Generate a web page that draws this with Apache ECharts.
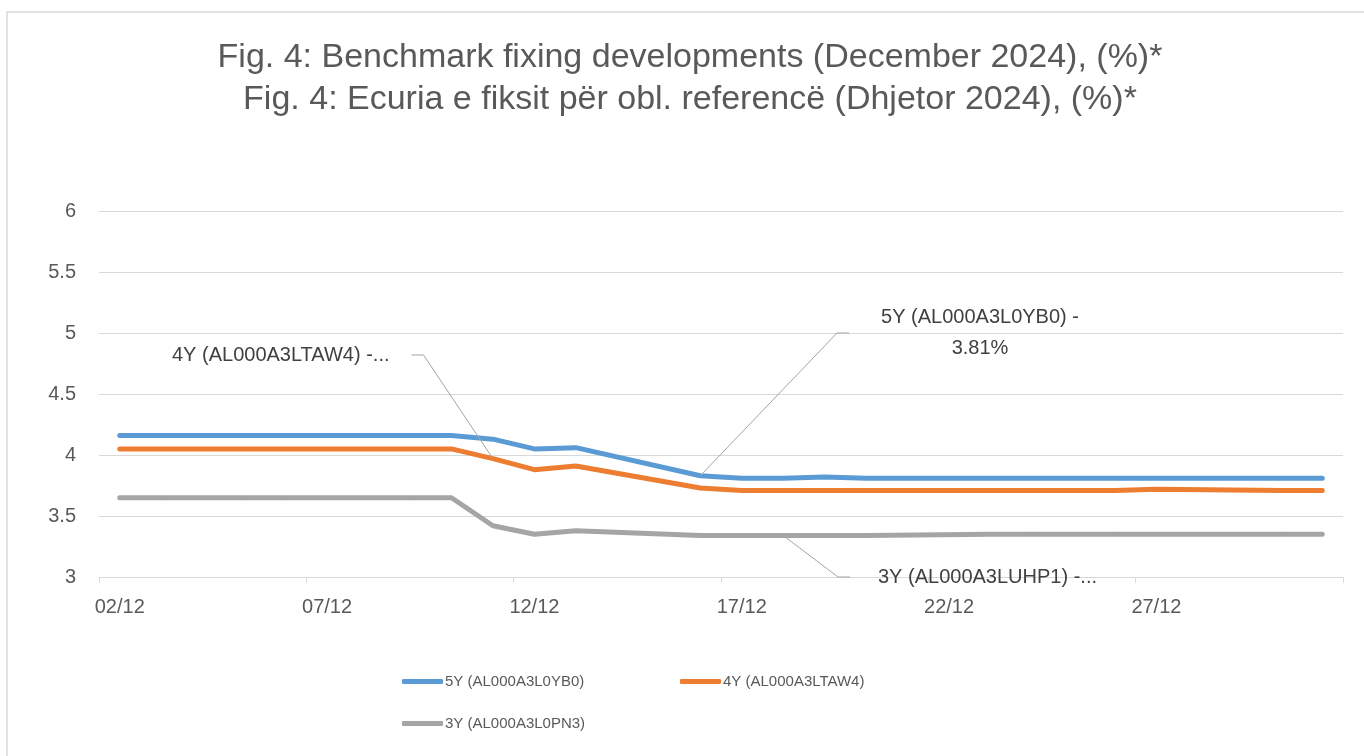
<!DOCTYPE html>
<html>
<head>
<meta charset="utf-8">
<title>Benchmark fixing developments</title>
<script src="https://cdn.jsdelivr.net/npm/echarts@6/dist/echarts.min.js"></script>
<style>
  html, body { margin: 0; padding: 0; background: #fff; }
  #main { width: 1364px; height: 756px; }
</style>
</head>
<body>
<div id="main"></div>
<script>
// every calendar day of December shown on the axis
var days = ['02/12', '03/12', '04/12', '05/12', '06/12', '07/12', '08/12', '09/12', '10/12', '11/12',
            '12/12', '13/12', '14/12', '15/12', '16/12', '17/12', '18/12', '19/12', '20/12', '21/12',
            '22/12', '23/12', '24/12', '25/12', '26/12', '27/12', '28/12', '29/12', '30/12', '31/12'];

// fixing in %, null = no fixing that day (weekend / holiday)
var fiveYear  = [4.16, 4.16, 4.16, 4.16, 4.16, null, null, 4.16, 4.16, 4.13,
                 4.05, 4.06, null, null, 3.83, 3.81, 3.81, 3.82, 3.81, null,
                 null, 3.81, 3.81, null, 3.81, 3.81, null, null, 3.81, 3.81];
var fourYear  = [4.05, 4.05, 4.05, 4.05, 4.05, null, null, 4.05, 4.05, 3.97,
                 3.88, 3.91, null, null, 3.73, 3.71, 3.71, 3.71, 3.71, null,
                 null, 3.71, 3.71, null, 3.71, 3.72, null, null, 3.71, 3.71];
var threeYear = [3.65, 3.65, 3.65, 3.65, 3.65, null, null, 3.65, 3.65, 3.42,
                 3.35, 3.38, null, null, 3.34, 3.34, 3.34, 3.34, 3.34, null,
                 null, 3.35, 3.35, null, 3.35, 3.35, null, null, 3.35, 3.35];

var names = ['5Y (AL000A3L0YB0)', '4Y (AL000A3LTAW4)', '3Y (AL000A3L0PN3)'];
var colors = ['#5b9bd5', '#ed7d31', '#a5a5a5'];
var titleText = 'Fig. 4: Benchmark fixing developments (December 2024), (%)*\n' +
                'Fig. 4: Ecuria e fiksit për obl. referencë (Dhjetor 2024), (%)*';

// data labels as they appear on the chart
var note5 = { index: 14, text: '5Y (AL000A3L0YB0) -\n3.81%' };
var note4 = { index: 9,  text: '4Y (AL000A3LTAW4) -...' };
var note3 = { index: 16, text: '3Y (AL000A3LUHP1) -...' };

var font = '"Liberation Sans", Arial, sans-serif';
var grey = '#595959';

function withNote(values, note, padding) {
  return values.map(function (v, i) {
    if (i !== note.index) return v;
    return {
      value: v,
      label: {
        show: true,
        formatter: note.text,
        fontFamily: font,
        fontSize: 20,
        lineHeight: 31,
        color: '#404040',
        backgroundColor: 'transparent',
        padding: padding
      },
      labelLine: {
        show: true,
        showAbove: true,
        length2: 12,
        lineStyle: { color: '#a5a5a5', width: 1 }
      }
    };
  });
}

function placeAt(index, pos) {
  return function (p) {
    if (p.dataIndex === index) return pos;
  };
}

function lineSeries(i, data, layout) {
  return {
    name: names[i],
    type: 'line',
    data: data,
    connectNulls: true,
    symbol: 'circle',
    symbolSize: 1,
    showAllSymbol: true,
    silent: true,
    itemStyle: { color: colors[i] },
    lineStyle: { color: colors[i], width: 5, cap: 'round', join: 'round' },
    label: { show: false },
    labelLayout: layout,
    emphasis: { disabled: true }
  };
}

function legendAt(i, left, top) {
  return {
    data: [names[i]],
    left: left,
    top: top,
    padding: 0,
    icon: 'roundRect',
    itemWidth: 41,
    itemHeight: 5,
    itemGap: 0,
    selectedMode: false,
    textStyle: { color: grey, fontFamily: font, fontSize: 15, padding: [0, 0, 0, -3] }
  };
}

var chart = echarts.init(document.getElementById('main'));
chart.setOption({
  animation: false,
  backgroundColor: '#fff',
  graphic: [{
    type: 'rect',
    z: -1,
    silent: true,
    shape: { x: 7, y: 12, width: 1400, height: 800 },
    style: { fill: 'none', stroke: '#d9d9d9', lineWidth: 1.5 }
  }, {
    type: 'text',
    x: 690,
    y: 37,
    silent: true,
    style: {
      text: titleText,
      fill: grey,
      font: '34px ' + font,
      lineHeight: 42,
      align: 'center',
      verticalAlign: 'top'
    }
  }],
  legend: [legendAt(0, 402, 674), legendAt(1, 680, 674), legendAt(2, 402, 716)],
  grid: { left: 99, right: 21, top: 211, bottom: 179, outerBoundsMode: 'none' },
  xAxis: {
    type: 'category',
    data: days,
    boundaryGap: true,
    axisLine: { lineStyle: { color: '#d9d9d9', width: 1 } },
    axisTick: { show: true, interval: 4, length: 6, lineStyle: { color: '#d9d9d9' } },
    axisLabel: { interval: 4, color: grey, fontFamily: font, fontSize: 20, margin: 20 }
  },
  yAxis: {
    type: 'value',
    min: 3,
    max: 6,
    interval: 0.5,
    axisLine: { show: false },
    axisTick: { show: false },
    splitLine: { lineStyle: { color: '#d9d9d9', width: 1 } },
    axisLabel: { color: grey, fontFamily: font, fontSize: 20, margin: 23 }
  },
  series: [
    lineSeries(0, withNote(fiveYear, note5, [0, 0, 0, 32]),
      placeAt(note5.index, { x: 964, y: 333, align: 'center', verticalAlign: 'middle' })),
    lineSeries(1, withNote(fourYear, note4, [0, 22, 0, 0]),
      placeAt(note4.index, { x: 172, y: 355, align: 'left', verticalAlign: 'middle' })),
    lineSeries(2, withNote(threeYear, note3, [0, 0, 0, 28]),
      placeAt(note3.index, { x: 850, y: 577, align: 'left', verticalAlign: 'middle' }))
  ]
});
</script>
</body>
</html>
